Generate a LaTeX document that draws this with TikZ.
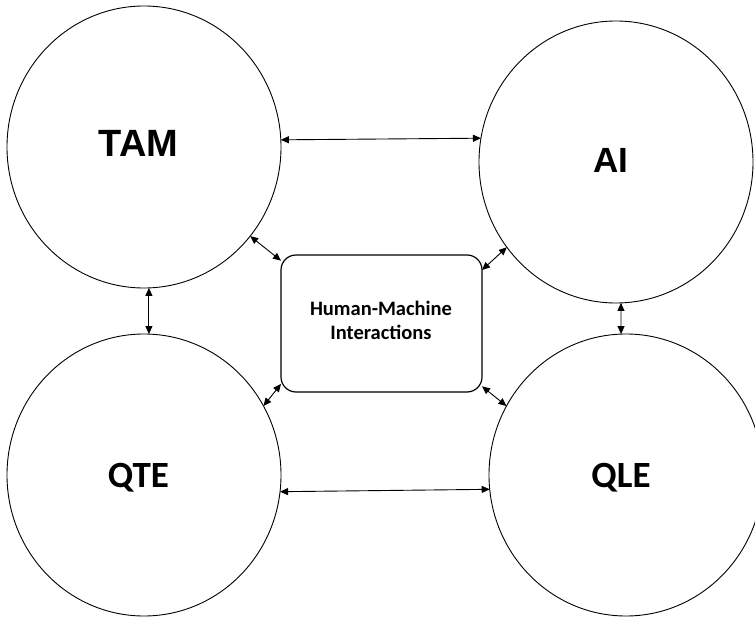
\documentclass[tikz,border=0pt]{standalone}
\usepackage{fontspec}
\setmainfont{Carlito}
\newfontfamily\arialfont{Liberation Sans}
\usetikzlibrary{arrows.meta,shapes.geometric}

\begin{document}
\begin{tikzpicture}[x=1pt,y=-1pt,
  bubble/.style={ellipse, draw, line width=0.9pt, minimum width=274pt,
    minimum height=282pt, inner sep=0pt, outer sep=0pt},
  hub/.style={rectangle, draw, rounded corners=15pt, line width=1.2pt,
    minimum width=201pt, minimum height=137pt, inner sep=0pt, outer sep=0pt},
  link/.style={{Triangle[length=8pt,width=7pt]}-{Triangle[length=8pt,width=7pt]},
    line width=0.9pt},
  arialtag/.style={anchor=base, inner sep=0pt,
    font=\arialfont\bfseries\fontsize{35}{42}\selectfont},
  calitag/.style={anchor=base, inner sep=0pt,
    font=\bfseries\fontsize{37}{44}\selectfont},
  hubtext/.style={align=center, inner sep=0pt,
    font=\bfseries\fontsize{20.5}{24}\selectfont}]
\useasboundingbox (0,0) rectangle (755,617);
\clip (0,0) rectangle (755,617);

% four concept bubbles
\node[bubble] (tam) at (144,147) {};
\node[bubble] (ai)  at (616,162) {};
\node[bubble] (qte) at (144,475) {};
\node[bubble] (qle) at (626,475) {};

% central box
\node[hub] (hmi) at (381.5,323.5) {};
\node[hubtext] (hmitext) at (381,320) {Human-Machine\\Interactions};

% bubble titles
\node[arialtag, font=\arialfont\bfseries\fontsize{38}{44}\selectfont]
  (tamtext) at (138.5,157) {TAM};
\node[arialtag] (aitext)  at (611,173) {AI};
\node[calitag]  (qtetext) at (138.5,487) {QTE};
\node[calitag]  (qletext) at (621,487) {QLE};

% links between bubbles
\draw[link] (tam.3) -- (ai.170);
\draw[link] (qte.-7) -- (qle.186);
\draw[link] (tam.-88.4) -- (qte.88.4);
\draw[link] (ai.-88) -- (qle.92);

% links to the central box
\draw[link] (tam.-40.7) -- (hmi.148);
\draw[link] (ai.-142.3) -- (hmi.28.7);
\draw[link] (qte.30.3) -- (hmi.211.7);
\draw[link] (qle.150.6) -- (hmi.-32.4);
\end{tikzpicture}
\end{document}
